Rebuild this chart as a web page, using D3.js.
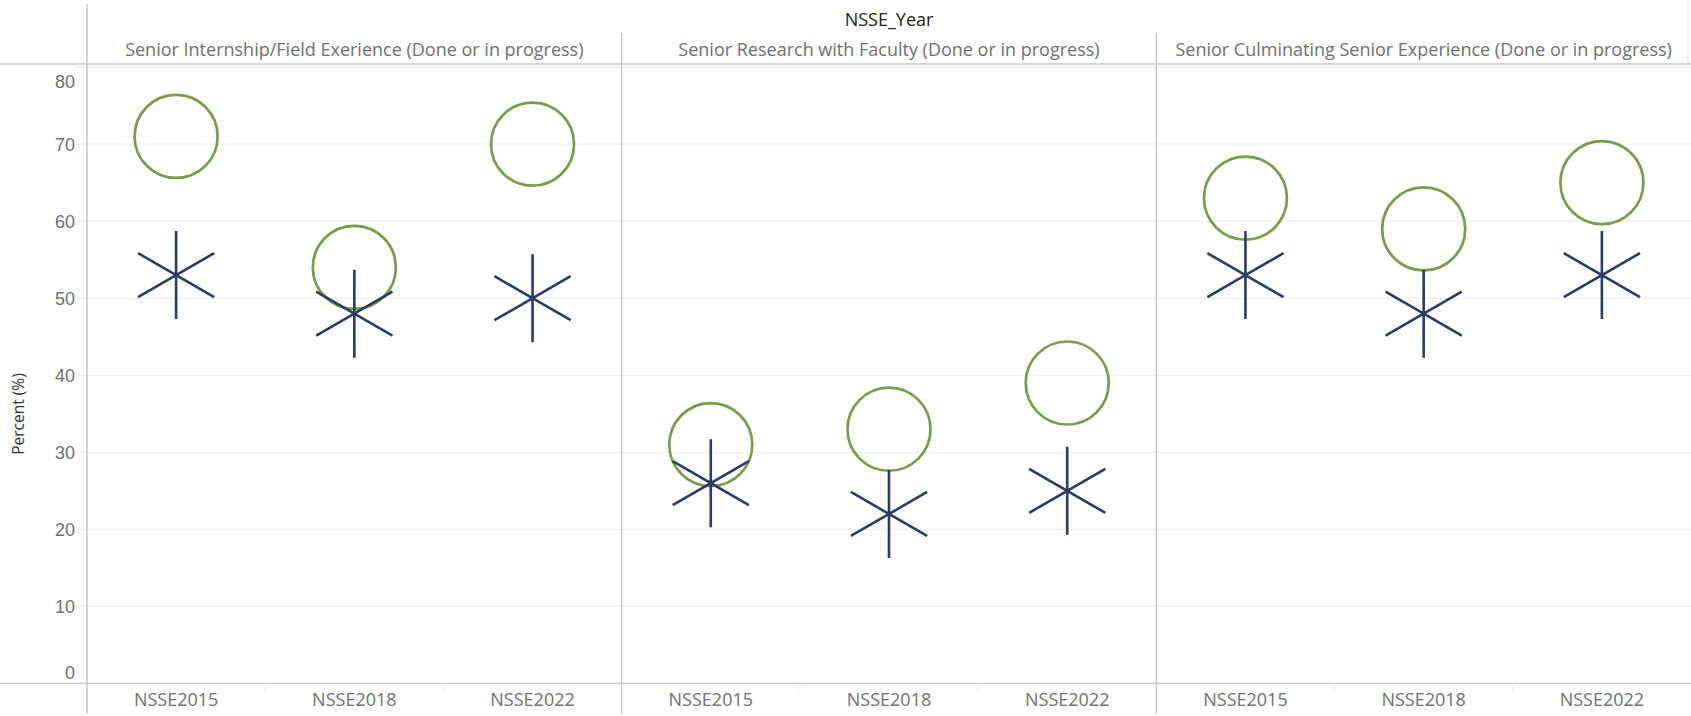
<!DOCTYPE html>
<html>
<head>
<meta charset="utf-8">
<script src="https://cdn.jsdelivr.net/npm/d3@7"></script>
<style>
  html, body { margin: 0; padding: 0; background: #fff; }
  svg { display: block; font-family: "Open Sans", "Noto Sans", sans-serif; }
</style>
</head>
<body>
<svg id="chart"></svg>
<script>
const panels = [
  'Senior Internship/Field Exerience (Done or in progress)',
  'Senior Research with Faculty (Done or in progress)',
  'Senior Culminating Senior Experience (Done or in progress)'
];
const years = ['NSSE2015', 'NSSE2018', 'NSSE2022'];
// green circles, one row per panel
const circleValues = [
  [71, 54, 70],
  [31, 33, 39],
  [63, 59, 65]
];
// navy asterisks
const starValues = [
  [53, 48, 50],
  [26, 22, 25],
  [53, 48, 53]
];
const yTicks = [0, 10, 20, 30, 40, 50, 60, 70, 80];

const width = 1691;
const height = 716;
const margin = { top: 64, bottom: 683.5, left: 87, right: 1691 };

const svg = d3.select('#chart').attr('width', width).attr('height', height);

const x = d3.scaleBand().domain(panels).range([margin.left, margin.right]);
const xi = d3.scaleBand().domain(years).range([0, x.bandwidth()]);
const y = d3.scaleLinear().domain([0, 80.4]).range([margin.bottom, margin.top]);

const points = [];
panels.forEach((p, i) => {
  years.forEach((yr, j) => {
    points.push({ panel: p, year: yr, circle: circleValues[i][j], star: starValues[i][j] });
  });
});

// gridlines
svg.append('g')
  .selectAll('line')
  .data(yTicks.filter(t => t > 0))
  .join('line')
  .attr('x1', margin.left - 10)
  .attr('x2', margin.right)
  .attr('y1', d => y(d))
  .attr('y2', d => y(d))
  .attr('stroke', '#efefef')
  .attr('stroke-width', 1.3);

// y axis labels
const yAxis = svg.append('g')
  .attr('transform', `translate(${margin.left},0)`)
  .call(d3.axisLeft(y).tickValues(yTicks).tickSize(0).tickPadding(12));
yAxis.select('.domain').remove();
yAxis.selectAll('text')
  .style('font-size', '18px')
  .attr('fill', '#707070')
  .attr('dy', d => d === 80 ? '1.15em' : d === 0 ? '-0.3em' : '0.34em');

svg.append('text')
  .attr('transform', `translate(24,414) rotate(-90)`)
  .attr('text-anchor', 'middle')
  .style('font-size', '15.5px')
  .attr('fill', '#333')
  .text('Percent (%)');

// frame lines
const lineColor = '#c9c9c9';
svg.append('line')
  .attr('x1', 0).attr('x2', width)
  .attr('y1', margin.top).attr('y2', margin.top)
  .attr('stroke', lineColor).attr('stroke-width', 1.5);
svg.append('line')
  .attr('x1', 0).attr('x2', width)
  .attr('y1', margin.bottom).attr('y2', margin.bottom)
  .attr('stroke', lineColor).attr('stroke-width', 1.5);
svg.append('line')
  .attr('x1', margin.left).attr('x2', margin.left)
  .attr('y1', 4).attr('y2', height - 2)
  .attr('stroke', lineColor).attr('stroke-width', 1.5);

svg.append('g')
  .selectAll('line')
  .data(panels.slice(1))
  .join('line')
  .attr('x1', d => x(d)).attr('x2', d => x(d))
  .attr('y1', 33).attr('y2', height - 2)
  .attr('stroke', lineColor).attr('stroke-width', 1.5);

svg.append('line')
  .attr('x1', margin.right - 3).attr('x2', margin.right - 3)
  .attr('y1', 0).attr('y2', margin.top)
  .attr('stroke', '#e4e4e4').attr('stroke-width', 1.2);

// header
svg.append('text')
  .attr('x', (margin.left + margin.right) / 2)
  .attr('y', 26)
  .attr('text-anchor', 'middle')
  .style('font-size', '18px')
  .attr('fill', '#222')
  .text('NSSE_Year');

svg.append('g')
  .selectAll('text')
  .data(panels)
  .join('text')
  .attr('x', d => x(d) + x.bandwidth() / 2)
  .attr('y', 56)
  .attr('text-anchor', 'middle')
  .style('font-size', '18px')
  .attr('fill', '#707070')
  .text(d => d);

// x labels per panel
panels.forEach(p => {
  const g = svg.append('g').attr('transform', `translate(${x(p)},0)`);
  g.selectAll('text')
    .data(years)
    .join('text')
    .attr('x', d => xi(d) + xi.bandwidth() / 2)
    .attr('y', 706)
    .attr('text-anchor', 'middle')
    .style('font-size', '18px')
    .attr('fill', '#707070')
    .text(d => d);
  g.selectAll('line')
    .data(years.slice(1))
    .join('line')
    .attr('x1', d => xi(d)).attr('x2', d => xi(d))
    .attr('y1', margin.bottom).attr('y2', margin.bottom + 8)
    .attr('stroke', '#f0f0f0').attr('stroke-width', 1.2);
});

const cx = d => x(d.panel) + xi(d.year) + xi.bandwidth() / 2;

// circles
const circleR = 41.5;
svg.append('g')
  .selectAll('path')
  .data(points)
  .join('path')
  .attr('transform', d => `translate(${cx(d)},${y(d.circle)})`)
  .attr('d', d3.symbol(d3.symbolCircle, Math.PI * circleR * circleR))
  .attr('fill', 'none')
  .attr('stroke', '#7a9a4c')
  .attr('stroke-width', 2.7);

// asterisks
const starR = 44;
const starSize = Math.pow(starR / 0.59436, 2) - 0.75;
svg.append('g')
  .selectAll('path')
  .data(points)
  .join('path')
  .attr('transform', d => `translate(${cx(d)},${y(d.star)})`)
  .attr('d', d3.symbol(d3.symbolAsterisk, starSize))
  .attr('fill', 'none')
  .attr('stroke', '#2c3b61')
  .attr('stroke-width', 2.6);
</script>
</body>
</html>
